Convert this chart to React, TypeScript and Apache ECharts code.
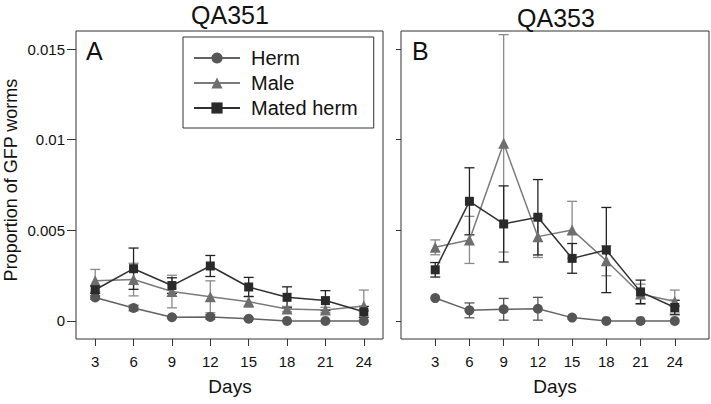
import React, { useEffect, useRef } from "react";
import * as echarts from "echarts";

const days = [3, 6, 9, 12, 15, 18, 21, 24];
const seriesNames = ["Herm", "Male", "Mated herm"];

// Panel A (QA351)
const hermA = [0.00129, 0.00071, 0.0002, 0.00022, 0.00012, 0, 0, 0];
const hermAErr = [0.0001, 0.00015, 0.00005, 0.00012, 0.00005, 0, 0, 0];
const maleA = [0.00222, 0.00228, 0.00162, 0.00133, 0.00106, 0.00065, 0.0006, 0.00082];
const maleAErr = [0.00062, 0.0009, 0.0009, 0.00088, 0.0003, 0.00015, 0.00015, 0.00088];
const matedA = [0.00172, 0.00288, 0.00195, 0.00303, 0.00187, 0.0013, 0.00112, 0.0005];
const matedAErr = [0.0002, 0.00114, 0.00043, 0.00058, 0.00053, 0.00058, 0.00055, 0.0003];

// Panel B (QA353)
const hermB = [0.00126, 0.00058, 0.00064, 0.00067, 0.00018, 0, 0, 0];
const hermBErr = [0, 0.00041, 0.0006, 0.00063, 0, 0, 0, 0];
const maleB = [0.00406, 0.00447, 0.0098, 0.00465, 0.00502, 0.00332, 0.00148, 0.00107];
const maleBErr = [0.00041, 0.0013, 0.006, 0.00115, 0.00158, 0.00083, 0.00055, 0.00063];
const matedB = [0.00282, 0.0066, 0.00535, 0.00572, 0.00345, 0.00391, 0.0016, 0.00074];
const matedBErr = [0.0004, 0.00185, 0.0021, 0.00208, 0.00082, 0.00235, 0.00065, 0.0004];

const yTicks = [0, 0.005, 0.01, 0.015];
const panelTitles = ["QA351", "QA353"];
const panelLetters = ["A", "B"];
const xName = "Days";
const yName = "Proportion of GFP worms";

const FONT = "Liberation Sans, Arial, sans-serif";
const symbols = ["circle", "triangle", "rect"];
const symbolSizes = [10, 11, 9];
const markerColors = ["#565656", "#6e6e6e", "#2a2a2a"];
const lineColors = ["#626262", "#7a7a7a", "#303030"];
const errColors = ["#555555", "#8a8a8a", "#222222"];

const panels = [
  { vals: [hermA, maleA, matedA], errs: [hermAErr, maleAErr, matedAErr] },
  { vals: [hermB, maleB, matedB], errs: [hermBErr, maleBErr, matedBErr] },
];

function makeErrRender(color: string) {
  return (params: any, api: any) => {
    const x = api.value(0);
    const y = api.value(1);
    const e = api.value(2);
    if (!e) return null;
    const top = api.coord([x, y + e]);
    const bot = api.coord([x, y - e]);
    const hw = 5;
    const style = { stroke: color, lineWidth: 1.3 };
    return {
      type: "group",
      children: [
        { type: "line", shape: { x1: top[0], y1: top[1], x2: bot[0], y2: bot[1] }, style },
        { type: "line", shape: { x1: top[0] - hw, y1: top[1], x2: top[0] + hw, y2: top[1] }, style },
        { type: "line", shape: { x1: bot[0] - hw, y1: bot[1], x2: bot[0] + hw, y2: bot[1] }, style },
      ],
    };
  };
}

export default function App() {
  const ref = useRef<HTMLDivElement>(null);
  useEffect(() => {
    if (!ref.current) return;
    const chart = echarts.init(ref.current, undefined, { renderer: "svg" });

    const series: any[] = [];
    panels.forEach((p, pi) => {
      p.vals.forEach((vals, si) => {
        series.push({
          type: "custom",
          name: seriesNames[si] + " err",
          xAxisIndex: pi,
          yAxisIndex: pi,
          z: 1,
          renderItem: makeErrRender(errColors[si]),
          data: days.map((d, i) => [d, vals[i], p.errs[si][i]]),
        });
      });
      p.vals.forEach((vals, si) => {
        series.push({
          type: "line",
          name: seriesNames[si],
          xAxisIndex: pi,
          yAxisIndex: pi,
          z: 2,
          symbol: symbols[si],
          symbolSize: symbolSizes[si],
          itemStyle: { color: markerColors[si] },
          lineStyle: { color: lineColors[si], width: 1.5 },
          data: days.map((d, i) => [d, vals[i]]),
        });
      });
    });

    const xAxisBase = (min: number, max: number, gi: number) => ({
      type: "value",
      gridIndex: gi,
      min,
      max,
      axisLine: { show: false, onZero: false },
      splitLine: { show: false },
      axisTick: { show: true, length: 7, customValues: days, lineStyle: { color: "#333" } },
      axisLabel: {
        customValues: days,
        margin: 15,
        fontSize: 15,
        fontFamily: FONT,
        color: "#111",
      },
    });

    const option: any = {
      animation: false,
      backgroundColor: "#fff",
      grid: [
        { left: 76, top: 31, width: 307, height: 308, show: true, borderColor: "#333", borderWidth: 1, backgroundColor: "transparent" },
        { left: 401, top: 31, width: 308, height: 308, show: true, borderColor: "#333", borderWidth: 1, backgroundColor: "transparent" },
      ],
      xAxis: [xAxisBase(1.5, 25.5, 0), xAxisBase(0, 27, 1)],
      yAxis: [
        {
          type: "value",
          gridIndex: 0,
          min: -0.001,
          max: 0.016,
          axisLine: { show: false },
          splitLine: { show: false },
          axisTick: { show: true, length: 9, customValues: yTicks, lineStyle: { color: "#333" } },
          axisLabel: {
            customValues: yTicks,
            margin: 11,
            fontSize: 15,
            fontFamily: FONT,
            color: "#111",
            formatter: (v: number) => (v === 0 ? "0" : String(v)),
          },
        },
        {
          type: "value",
          gridIndex: 1,
          min: -0.001,
          max: 0.016,
          axisLine: { show: false },
          splitLine: { show: false },
          axisTick: { show: true, length: 5, customValues: yTicks, lineStyle: { color: "#333" } },
          axisLabel: { show: false },
        },
      ],
      legend: {
        data: seriesNames,
        orient: "vertical",
        left: 183,
        top: 37,
        padding: [11, 16, 10, 10],
        itemWidth: 46,
        itemHeight: 14,
        itemGap: 5,
        borderColor: "#333",
        borderWidth: 1,
        backgroundColor: "#fff",
        selectedMode: false,
        textStyle: { fontSize: 20, fontFamily: FONT, color: "#111", padding: [0, 0, 0, 6] },
      },
      graphic: [
        { type: "text", x: 230, y: 15, style: { text: panelTitles[0], fontSize: 25, fontFamily: FONT, fill: "#111", align: "center", verticalAlign: "middle" } },
        { type: "text", x: 556, y: 18, style: { text: panelTitles[1], fontSize: 25, fontFamily: FONT, fill: "#111", align: "center", verticalAlign: "middle" } },
        { type: "text", x: 86, y: 51, style: { text: panelLetters[0], fontSize: 25, fontFamily: FONT, fill: "#111", align: "left", verticalAlign: "middle" } },
        { type: "text", x: 412, y: 51, style: { text: panelLetters[1], fontSize: 25, fontFamily: FONT, fill: "#111", align: "left", verticalAlign: "middle" } },
        { type: "text", x: 11, y: 180, rotation: Math.PI / 2, style: { text: yName, fontSize: 18, fontFamily: FONT, fill: "#111", align: "center", verticalAlign: "middle" } },
        { type: "text", x: 230, y: 386, style: { text: xName, fontSize: 19, fontFamily: FONT, fill: "#111", align: "center", verticalAlign: "middle" } },
        { type: "text", x: 555, y: 386, style: { text: xName, fontSize: 19, fontFamily: FONT, fill: "#111", align: "center", verticalAlign: "middle" } },
      ],
      series,
    };
    chart.setOption(option);
    return () => chart.dispose();
  }, []);
  return <div ref={ref} style={{ position: "fixed", left: 0, top: 0, width: 711, height: 404 }} />;
}
